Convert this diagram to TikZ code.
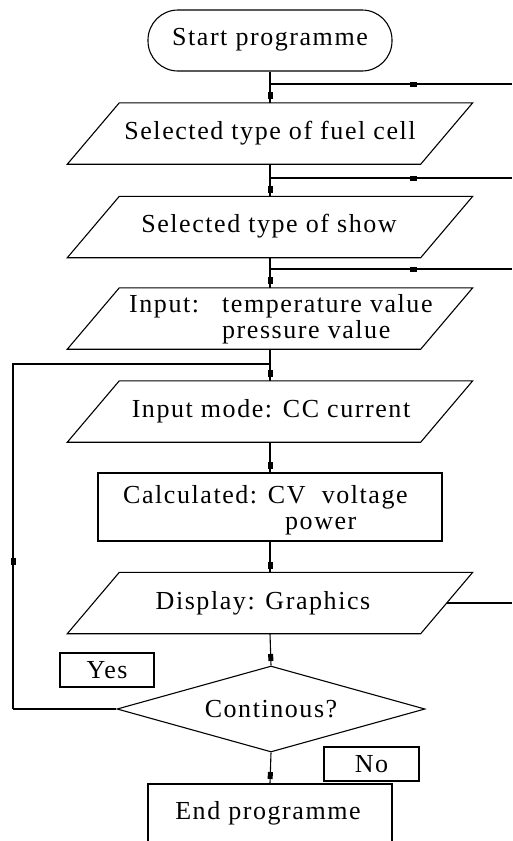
\documentclass[tikz,border=0pt]{standalone}
\usepackage{fontspec}
\setmainfont[LetterSpace=6]{Liberation Serif}
\usetikzlibrary{shapes.geometric,decorations.markings}
\tikzset{
  ln/.style={draw=black, line width=1.1pt},
  shp/.style={draw=black, line width=1.1pt, inner sep=0pt},
  para/.style={rectangle, inner sep=0pt, minimum width=353pt, minimum height=61pt},
  paraline/.style={draw=black, line width=1.1pt, line join=miter},
  lbl/.style={font=\fontsize{26}{27}\selectfont, inner sep=0pt, align=left},
  sqdot/.style={postaction={decorate, decoration={markings,
    mark=at position #1 with {\fill[black] (-3.5pt,-2.5pt) rectangle (3.5pt,2.5pt);}}}}
}
\begin{document}
\begin{tikzpicture}[x=1pt,y=-1pt]
\path[use as bounding box, clip] (0,0) rectangle (512,841);
\fill[white] (0,0) rectangle (512,841);
% shapes
\node[shp, rectangle, rounded corners=30pt, minimum width=244pt, minimum height=61pt] (start) at (270,40.5) {};
\node[para] (p1) at (270,133.5) {};
\node[para] (p2) at (270,227) {};
\node[para] (p3) at (270,318.5) {};
\node[para] (p4) at (270,411.5) {};
\node[shp, rectangle, minimum width=344pt, minimum height=68pt] (calc) at (270,507) {};
\node[para] (p5) at (270,603) {};
\foreach \n in {p1,p2,p3,p4,p5}{
  \draw[paraline] ([xshift=-26pt]\n.south west) -- ([xshift=-26pt]\n.south east)
      -- ([xshift=26pt]\n.north east) -- ([xshift=26pt]\n.north west) -- cycle;
}
\node[shp, diamond, minimum width=308pt, minimum height=86pt] (dia) at (271,709) {};
\node[shp, rectangle, minimum width=94pt, minimum height=34pt] (yes) at (107,670) {};
\node[shp, rectangle, minimum width=95pt, minimum height=34pt] (no) at (371.5,764) {};
\node[shp, rectangle, minimum width=244pt, minimum height=80pt] (endp) at (270,824) {};
% texts
\node[lbl] (tstart) at (270,40) {Start programme};
\node[lbl] (t1) at (270,133) {Selected type of fuel cell};
\node[lbl] (t2) at (269,226) {Selected type of show};
\node[lbl, anchor=west] (t3) at (129,319) {\makebox[93pt][l]{Input:}temperature value\\[-1pt]\hspace*{93pt}pressure value};
\node[lbl] (t4) at (271,411) {Input mode: CC current};
\node[lbl, anchor=west] (t5a) at (123,497) {Calculated: CV\ \ voltage};
\node[lbl, anchor=west] (t5b) at (285,526) {power};
\node[lbl] (t6) at (263,603) {Display: Graphics};
\node[lbl] (tdia) at (271,709) {Continous?};
\node[lbl] (tyes) at (yes) {Yes};
\node[lbl] (tno) at (no) {No};
\node[lbl] (tend) at (268,813) {End programme};
% coordinates
\coordinate (b1) at (270,84);  \coordinate (e1) at (512,84);
\coordinate (b2) at (270,178); \coordinate (e2) at (512,178);
\coordinate (b3) at (270,269); \coordinate (e3) at (512,269);
\coordinate (e4) at (512,603);
\coordinate (j) at (270,364);
\coordinate (l1) at (13,709);
\coordinate (l2) at (13,364);
% connectors
\draw[ln, sqdot=-7pt] (start.south) -- (p1.north);
\draw[ln, sqdot=-7pt] (p1.south) -- (p2.north);
\draw[ln, sqdot=-7pt] (p2.south) -- (p3.north);
\draw[ln, sqdot=-7pt] (p3.south) -- (p4.north);
\draw[ln, sqdot=-7pt] (p4.south) -- (calc.north);
\draw[ln, sqdot=-7pt] (calc.south) -- (p5.north);
\draw[ln, sqdot=-8pt] (p5.south) -- (dia.north);
\draw[ln, sqdot=-8pt] (dia.south) -- (endp.north);
\draw[ln, sqdot=143pt] (b1) -- (e1);
\draw[ln, sqdot=143pt] (b2) -- (e2);
\draw[ln, sqdot=143pt] (b3) -- (e3);
\draw[ln] (p5.east) -- (e4);
\draw[ln] (dia.west) -- (l1);
\draw[ln, sqdot=148pt] (l1) -- (l2) -- (j);
\end{tikzpicture}
\end{document}
